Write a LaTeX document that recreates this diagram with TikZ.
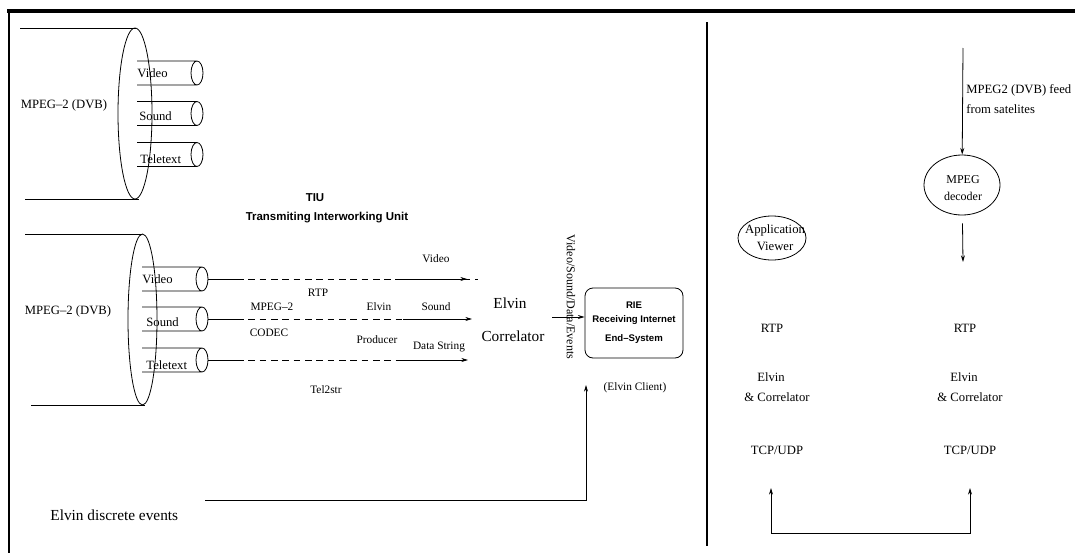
\documentclass[tikz,border=0pt]{standalone}
\usepackage{fontspec}
\setmainfont{Liberation Serif}
\setsansfont{Liberation Sans}
\usetikzlibrary{arrows.meta,shapes.geometric}
\tikzset{
  txt/.style={font=\fontsize{9.5}{12.75}\selectfont, inner sep=0pt, align=center},
  sm/.style={font=\fontsize{8.5}{10}\selectfont, inner sep=0pt},
  big/.style={font=\fontsize{11.5}{14}\selectfont, inner sep=0pt},
  hdr/.style={font=\sffamily\bfseries\fontsize{8.6}{10}\selectfont, inner sep=0pt},
  arr/.style={-{Stealth[length=5pt,width=3pt]}},
  dsh/.style={dash pattern=on 5pt off 3.5pt},
  oval/.style={draw, ellipse, inner sep=0pt},
}
\begin{document}
\begin{tikzpicture}[x=0.75pt,y=-0.75pt,line width=0.6pt]
\useasboundingbox (0,0) rectangle (1075,553);
\draw[line width=2.5pt] (7,11) -- (1075,11);
\draw[line width=2pt] (9,10) -- (9,553);
\draw[line width=0.8pt] (707,22) -- (707,546);
% upper stream
\draw (20,28) -- (136,28) (25,199) -- (139,199);
\draw (135,113.5) ellipse [x radius=17, y radius=85.5];
\foreach \y in {73,113.5,154.5}
  \draw (137,\y-12) -- (197,\y-12) (137,\y+12) -- (197,\y+12) (197,\y) ellipse [x radius=6, y radius=12];
\node[txt] (mpegA) at (64,105) {MPEG--2 (DVB)};
\node[txt,anchor=west] (vidA) at (137,73) {Video};
\node[txt,anchor=west] (sndA) at (139,116) {Sound};
\node[txt,anchor=west] (telA) at (140,159) {Teletext};
% lower stream
\draw (25,234) -- (142,234) (31,405) -- (145,405);
\draw (142.5,319.5) ellipse [x radius=14.5, y radius=85.5];
\foreach \y/\n in {279/vid,319/snd,360/tel} {
  \draw (142,\y-12) -- (202,\y-12) (142,\y+12) -- (202,\y+12) (202,\y) ellipse [x radius=6, y radius=12];
  \coordinate (\n0) at (208,\y);
  \coordinate (\n1) at (237,\y);
}
\node[txt] (mpegB) at (68,311) {MPEG--2 (DVB)};
\node[txt,anchor=west] (vidB) at (142,279) {Video};
\node[txt,anchor=west] (sndB) at (146,322) {Sound};
\node[txt,anchor=west] (telB) at (146,365) {Teletext};
\coordinate (vidend) at (478,279);
\coordinate (vidarr) at (395,279);
\coordinate (vidtip) at (467,279);
\coordinate (sndarr) at (403,319);
\coordinate (sndtip) at (472,319);
\coordinate (telarr) at (399,360);
\coordinate (teltip) at (468,360);
\draw (vid0) -- (vid1) (snd0) -- (snd1) (tel0) -- (tel1);
\draw[dsh] (vid1) -- (vidend);
\draw[dsh] (snd1) -- (sndarr);
\draw[dsh] (tel1) -- (telarr);
\draw[arr] (vidarr) -- (vidtip);
\draw[arr] (sndarr) -- (sndtip);
\draw[arr] (telarr) -- (teltip);
\node[hdr] (tiu) at (315,198) {TIU};
\node[hdr] (tiuname) at (327,218) {Transmiting Interworking Unit};
\node[sm] (codec1) at (272,307) {MPEG--2};
\node[sm] (codec2) at (269,333) {CODEC};
\node[sm] (rtp) at (318,293) {RTP};
\node[sm] (prod1) at (379,307) {Elvin};
\node[sm] (prod2) at (377,340) {Producer};
\node[sm] (tel2str) at (326,390) {Tel2str};
\node[sm] (vidlbl) at (436,259) {Video};
\node[sm] (sndlbl) at (436,307) {Sound};
\node[sm] (datlbl) at (439,347) {Data String};
\node[big] (corr1) at (510,303) {Elvin};
\node[big] (corr2) at (513,336) {Correlator};
\node[font=\fontsize{9}{10}\selectfont, inner sep=0pt, rotate=-90] (vsde) at (571,297) {Video/Sound/Data/Events};
\node[draw, rounded corners=6pt, minimum width=73.5pt, minimum height=52.5pt, align=center,
  font=\sffamily\bfseries\fontsize{7.2}{10.5}\selectfont] (rie) at (634,323) {RIE\\Receiving Internet\\[3.75pt]End--System};
\coordinate (cin) at (552,317);
\draw[arr] (cin) -- (rie.west |- cin);
\node[sm] (client) at (635,388) {(Elvin Client)};
\node[big,anchor=west] (disc) at (50,515) {Elvin discrete events};
\coordinate (ev0) at (205,500);
\coordinate (ev1) at (586,385);
\draw[arr] (ev0) -| (ev1);
% receiving side
\node[oval, minimum width=51pt, minimum height=33pt] (appv) at (772,238) {};
\node[txt] (appvtxt) at (775,238) {Application\\Viewer};
\node[oval, minimum width=57pt, minimum height=45pt] (dec) at (962,185) {};
\node[txt, font=\fontsize{9}{12.75}\selectfont] (dectxt) at (963,188.5) {MPEG\\decoder};
\coordinate (sat) at (963,48);
\coordinate (decout) at (963,262);
\draw[arr] (sat) -- (dec);
\draw[arr, shorten <=6pt] (dec) -- (decout);
\node[txt,anchor=west] (feed1) at (966,90) {MPEG2 (DVB) feed};
\node[txt,anchor=west] (feed2) at (966,109) {from satelites};
\node[txt] (rtpA) at (772,328) {RTP};
\node[txt] (rtpB) at (965,328) {RTP};
\node[txt] (elvA) at (771,377) {Elvin};
\node[txt] (corA) at (777,397) {\& Correlator};
\node[txt] (elvB) at (964,377) {Elvin};
\node[txt] (corB) at (970,397) {\& Correlator};
\node[txt] (tcpA) at (777,450) {TCP/UDP};
\node[txt] (tcpB) at (970,450) {TCP/UDP};
\coordinate (up1) at (771,488);
\coordinate (lo1) at (771,533);
\coordinate (lo2) at (970,533);
\coordinate (up2) at (970,488);
\draw[{Stealth[length=5pt,width=3pt]}-{Stealth[length=5pt,width=3pt]}] (up1) -- (lo1) -- (lo2) -- (up2);
\end{tikzpicture}
\end{document}
